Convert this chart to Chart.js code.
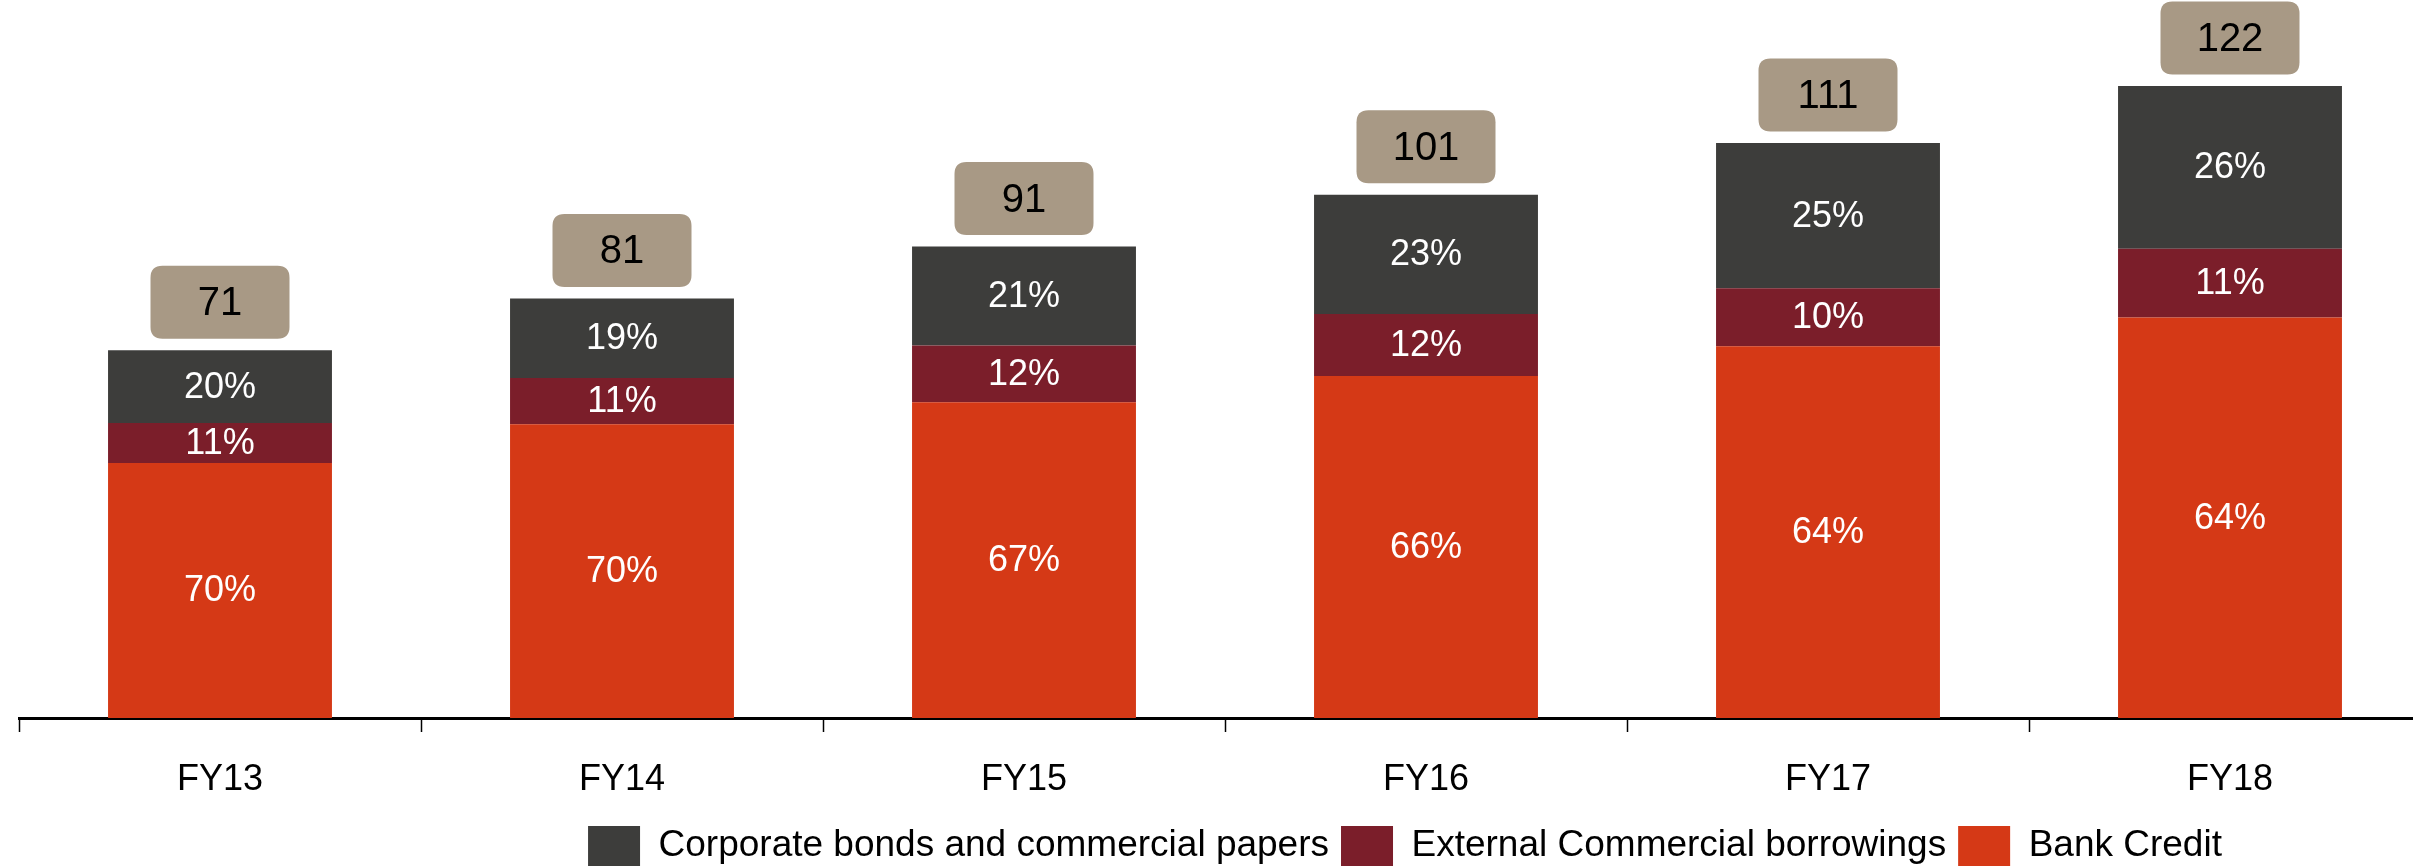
<!DOCTYPE html>
<html>
<head>
    <title>Debt funding mix</title>
    <style>
        html, body { margin: 0; padding: 0; background: #fff; overflow: hidden; }
        #wrap { width: 2431px; height: 867px; position: relative; }
    </style>
</head>
<body>
    <div id="wrap"><canvas id="chart"></canvas></div>
    <script src="https://cdn.jsdelivr.net/npm/chart.js@4.4.0/dist/chart.umd.min.js"></script>
    <script>

// values
const years = ['FY13', 'FY14', 'FY15', 'FY16', 'FY17', 'FY18'];
const totals = [71, 81, 91, 101, 111, 122];
const bankShare = [70, 70, 67, 66, 64, 64];
const ecbShare = [11, 11, 12, 12, 10, 11];
const corpShare = [20, 19, 21, 23, 25, 26];

const font = '"Liberation Sans", Arial, sans-serif';
let colours = {
    bank: '#d53916',
    ecb: '#7b1e2a',
    corp: '#3d3d3b',
    total: '#a89985'
};

// split each year's total by its shares (shares don't always sum to exactly 100)
function segment(shares) {
    return totals.map(function(t, i) {
        let sum = bankShare[i] + ecbShare[i] + corpShare[i];
        return t * shares[i] / sum;
    });
}

let sets = [
    { label: 'Bank Credit', shares: bankShare, backgroundColor: colours.bank },
    { label: 'External Commercial borrowings', shares: ecbShare, backgroundColor: colours.ecb },
    { label: 'Corporate bonds and commercial papers', shares: corpShare, backgroundColor: colours.corp }
].map(function(d) {
    return {
        label: d.label,
        shares: d.shares,
        data: segment(d.shares),
        backgroundColor: d.backgroundColor,
        borderWidth: 0,
        barPercentage: 0.557,
        categoryPercentage: 1.0
    };
});

function roundBox(ctx, x, y, w, h, r) {
    ctx.beginPath();
    ctx.moveTo(x + r, y);
    ctx.lineTo(x + w - r, y);
    ctx.quadraticCurveTo(x + w, y, x + w, y + r);
    ctx.lineTo(x + w, y + h - r);
    ctx.quadraticCurveTo(x + w, y + h, x + w - r, y + h);
    ctx.lineTo(x + r, y + h);
    ctx.quadraticCurveTo(x, y + h, x, y + h - r);
    ctx.lineTo(x, y + r);
    ctx.quadraticCurveTo(x, y, x + r, y);
    ctx.closePath();
}

const labels = {
    id: 'labels',
    afterDatasetsDraw(chart) {
        let ctx = chart.ctx;
        ctx.save();
        ctx.textAlign = 'center';
        ctx.textBaseline = 'middle';
        ctx.font = '36px ' + font;
        ctx.fillStyle = '#ffffff';
        chart.data.datasets.forEach(function(ds, i) {
            chart.getDatasetMeta(i).data.forEach(function(bar, j) {
                ctx.fillText(ds.shares[j] + '%', bar.x, (bar.y + bar.base) / 2 + 1);
            });
        });
        // total boxes above each stack
        let top = chart.getDatasetMeta(chart.data.datasets.length - 1).data;
        top.forEach(function(bar, j) {
            let w = 139, h = 73;
            let cy = bar.y - 48;
            ctx.fillStyle = colours.total;
            roundBox(ctx, bar.x - w / 2, cy - h / 2, w, h, 12);
            ctx.fill();
            ctx.fillStyle = '#000000';
            ctx.font = '40px ' + font;
            ctx.fillText(totals[j], bar.x, cy + 2);
        });
        ctx.restore();
    }
};

// the legend sits off-centre (and a bit lower) in the original
const shiftLegend = {
    id: 'shiftLegend',
    afterLayout(chart) {
        let dx = 180, dy = 9;
        chart.legend.left += dx;
        chart.legend.right += dx;
        chart.legend.top += dy;
        chart.legend.bottom += dy;
    }
};

let chart = new Chart(document.getElementById('chart'), {
    type: 'bar',
    data: { labels: years, datasets: sets },
    plugins: [labels, shiftLegend],
    options: {
        responsive: true,
        maintainAspectRatio: false,
        devicePixelRatio: 1,
        animation: false,
        layout: { padding: { left: 19, right: 0, top: 0, bottom: 0 } },
        plugins: {
            tooltip: { enabled: false },
            legend: {
                position: 'bottom',
                reverse: true,
                labels: {
                    font: { family: font, size: 37 },
                    color: '#000000',
                    boxWidth: 52,
                    boxHeight: 40,
                    padding: 12
                }
            }
        },
        scales: {
            x: {
                stacked: true,
                afterFit: function(scale) { scale.height = 87; },
                grid: {
                    display: true,
                    offset: true,
                    drawOnChartArea: false,
                    drawTicks: true,
                    tickLength: 14,
                    tickWidth: 1.5,
                    tickColor: '#000000'
                },
                border: { display: true, color: '#000000', width: 3 },
                ticks: {
                    font: { family: font, size: 36, lineHeight: 1.0 },
                    color: '#000000',
                    padding: 30
                }
            },
            y: {
                stacked: true,
                display: false,
                min: 0,
                max: 138.6
            }
        }
    }
});

    </script>
</body>
</html>
